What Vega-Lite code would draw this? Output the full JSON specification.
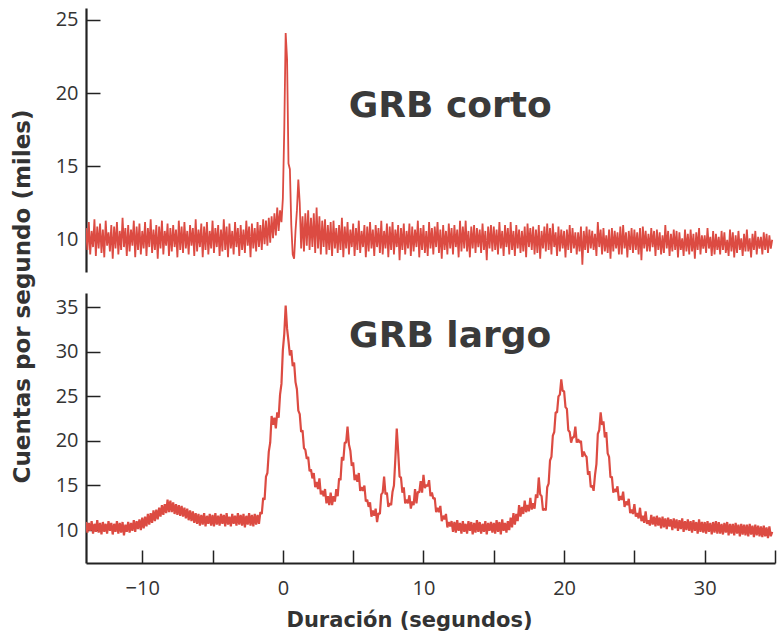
{
"$schema": "https://vega.github.io/schema/vega-lite/v6.json",
"padding": {"left": 11, "top": 8, "right": 2, "bottom": 5},
"bounds": "flush",
"spacing": 21,
"config": {"view": {"stroke": null}, "axis": {"labelFont": "Open Sans", "labelFontSize": 20, "labelColor": "#333", "domainColor": "#222", "domainWidth": 2.2, "tickColor": "#222", "tickWidth": 1.5, "grid": false, "titleFont": "DejaVu Sans", "titleFontWeight": "bold", "titleColor": "#333"}},
"datasets": {
"corto": [
{"t":-14,"v":10.8},{"t":-13.9,"v":9.3},{"t":-13.8,"v":11.2},{"t":-13.7,"v":9.0},{"t":-13.6,"v":10.6},{"t":-13.5,"v":9.5},{"t":-13.4,"v":11.4},{"t":-13.3,"v":8.9},{"t":-13.2,"v":10.9},{"t":-13.1,"v":9.4},
{"t":-13,"v":11.1},{"t":-12.9,"v":9.1},{"t":-12.8,"v":10.7},{"t":-12.7,"v":8.8},{"t":-12.6,"v":11.3},{"t":-12.5,"v":9.6},{"t":-12.4,"v":10.5},{"t":-12.3,"v":9.2},{"t":-12.2,"v":11.0},{"t":-12.1,"v":8.7},
{"t":-12,"v":10.9},{"t":-11.9,"v":9.4},{"t":-11.8,"v":11.2},{"t":-11.7,"v":9.0},{"t":-11.6,"v":10.6},{"t":-11.5,"v":9.3},{"t":-11.4,"v":11.5},{"t":-11.3,"v":9.5},{"t":-11.2,"v":10.8},{"t":-11.1,"v":8.9},
{"t":-11,"v":11.0},{"t":-10.9,"v":9.2},{"t":-10.8,"v":10.7},{"t":-10.7,"v":9.6},{"t":-10.6,"v":11.3},{"t":-10.5,"v":8.8},{"t":-10.4,"v":10.9},{"t":-10.3,"v":9.3},{"t":-10.2,"v":11.1},{"t":-10.1,"v":9.0},
{"t":-10,"v":10.6},{"t":-9.9,"v":9.4},{"t":-9.8,"v":11.2},{"t":-9.7,"v":8.9},{"t":-9.6,"v":10.8},{"t":-9.5,"v":9.5},{"t":-9.4,"v":11.4},{"t":-9.3,"v":9.1},{"t":-9.2,"v":10.7},{"t":-9.1,"v":9.3},
{"t":-9,"v":11.0},{"t":-8.9,"v":8.7},{"t":-8.8,"v":10.9},{"t":-8.7,"v":9.4},{"t":-8.6,"v":11.3},{"t":-8.5,"v":9.0},{"t":-8.4,"v":10.6},{"t":-8.3,"v":9.6},{"t":-8.2,"v":11.1},{"t":-8.1,"v":8.9},
{"t":-8,"v":10.8},{"t":-7.9,"v":9.2},{"t":-7.8,"v":11.0},{"t":-7.7,"v":9.5},{"t":-7.6,"v":10.7},{"t":-7.5,"v":8.8},{"t":-7.4,"v":11.3},{"t":-7.3,"v":9.3},{"t":-7.2,"v":10.9},{"t":-7.1,"v":9.1},
{"t":-7,"v":11.2},{"t":-6.9,"v":9.4},{"t":-6.8,"v":10.6},{"t":-6.7,"v":9.0},{"t":-6.6,"v":11.0},{"t":-6.5,"v":9.6},{"t":-6.4,"v":10.8},{"t":-6.3,"v":8.9},{"t":-6.2,"v":11.4},{"t":-6.1,"v":9.2},
{"t":-6,"v":10.7},{"t":-5.9,"v":9.5},{"t":-5.8,"v":11.1},{"t":-5.7,"v":8.8},{"t":-5.6,"v":10.9},{"t":-5.5,"v":9.3},{"t":-5.4,"v":11.2},{"t":-5.3,"v":9.0},{"t":-5.2,"v":10.6},{"t":-5.1,"v":9.4},
{"t":-5,"v":11.3},{"t":-4.9,"v":9.1},{"t":-4.8,"v":10.8},{"t":-4.7,"v":9.5},{"t":-4.6,"v":11.0},{"t":-4.5,"v":8.9},{"t":-4.4,"v":10.7},{"t":-4.3,"v":9.2},{"t":-4.2,"v":11.4},{"t":-4.1,"v":9.3},
{"t":-4,"v":10.9},{"t":-3.9,"v":8.8},{"t":-3.8,"v":11.1},{"t":-3.7,"v":9.4},{"t":-3.6,"v":10.6},{"t":-3.5,"v":9.0},{"t":-3.4,"v":11.2},{"t":-3.3,"v":9.5},{"t":-3.2,"v":10.8},{"t":-3.1,"v":8.9},
{"t":-3,"v":11.0},{"t":-2.9,"v":9.3},{"t":-2.8,"v":10.7},{"t":-2.7,"v":9.1},{"t":-2.6,"v":11.3},{"t":-2.5,"v":9.6},{"t":-2.4,"v":10.9},{"t":-2.3,"v":8.8},{"t":-2.2,"v":11.1},{"t":-2.1,"v":9.4},
{"t":-2,"v":10.8},{"t":-1.9,"v":9.2},{"t":-1.8,"v":11.2},{"t":-1.7,"v":9.5},{"t":-1.6,"v":11.0},{"t":-1.5,"v":9.3},{"t":-1.4,"v":11.4},{"t":-1.3,"v":9.7},{"t":-1.2,"v":11.3},{"t":-1.1,"v":9.6},
{"t":-1,"v":11.5},{"t":-0.9,"v":9.8},{"t":-0.8,"v":11.6},{"t":-0.7,"v":10.1},{"t":-0.6,"v":11.8},{"t":-0.5,"v":10.3},{"t":-0.4,"v":12.2},{"t":-0.3,"v":10.6},{"t":-0.2,"v":12.0},{"t":-0.1,"v":11.2},
{"t":0,"v":12.8},{"t":0.1,"v":17.5},{"t":0.2,"v":24.1},{"t":0.3,"v":22.3},{"t":0.4,"v":15.2},{"t":0.5,"v":14.8},{"t":0.6,"v":11.0},{"t":0.7,"v":9.0},{"t":0.8,"v":8.7},{"t":0.9,"v":10.6},
{"t":1,"v":12.0},{"t":1.1,"v":14.1},{"t":1.2,"v":12.5},{"t":1.3,"v":9.4},{"t":1.4,"v":11.6},{"t":1.5,"v":9.2},{"t":1.6,"v":11.8},{"t":1.7,"v":9.6},{"t":1.8,"v":12.0},{"t":1.9,"v":9.3},
{"t":2,"v":11.5},{"t":2.1,"v":9.5},{"t":2.2,"v":11.8},{"t":2.3,"v":9.1},{"t":2.4,"v":12.2},{"t":2.5,"v":9.4},{"t":2.6,"v":11.6},{"t":2.7,"v":9.0},{"t":2.8,"v":11.3},{"t":2.9,"v":9.5},
{"t":3,"v":11.4},{"t":3.1,"v":9.0},{"t":3.2,"v":11.0},{"t":3.3,"v":9.3},{"t":3.4,"v":11.2},{"t":3.5,"v":8.9},{"t":3.6,"v":11.3},{"t":3.7,"v":9.4},{"t":3.8,"v":10.8},{"t":3.9,"v":9.1},
{"t":4,"v":11.0},{"t":4.1,"v":9.3},{"t":4.2,"v":11.5},{"t":4.3,"v":8.8},{"t":4.4,"v":10.9},{"t":4.5,"v":9.4},{"t":4.6,"v":11.2},{"t":4.7,"v":9.0},{"t":4.8,"v":10.7},{"t":4.9,"v":9.5},
{"t":5,"v":11.1},{"t":5.1,"v":8.9},{"t":5.2,"v":10.8},{"t":5.3,"v":9.3},{"t":5.4,"v":11.3},{"t":5.5,"v":9.1},{"t":5.6,"v":10.6},{"t":5.7,"v":9.5},{"t":5.8,"v":11.0},{"t":5.9,"v":8.8},
{"t":6,"v":10.9},{"t":6.1,"v":9.2},{"t":6.2,"v":11.2},{"t":6.3,"v":9.4},{"t":6.4,"v":10.7},{"t":6.5,"v":8.9},{"t":6.6,"v":11.0},{"t":6.7,"v":9.5},{"t":6.8,"v":10.8},{"t":6.9,"v":9.1},
{"t":7,"v":11.3},{"t":7.1,"v":9.0},{"t":7.2,"v":10.6},{"t":7.3,"v":9.4},{"t":7.4,"v":11.1},{"t":7.5,"v":8.8},{"t":7.6,"v":10.9},{"t":7.7,"v":9.3},{"t":7.8,"v":11.2},{"t":7.9,"v":9.0},
{"t":8,"v":10.7},{"t":8.1,"v":9.5},{"t":8.2,"v":11.0},{"t":8.3,"v":8.6},{"t":8.4,"v":10.8},{"t":8.5,"v":9.3},{"t":8.6,"v":11.1},{"t":8.7,"v":9.0},{"t":8.8,"v":10.6},{"t":8.9,"v":9.4},
{"t":9,"v":11.1},{"t":9.1,"v":8.9},{"t":9.2,"v":10.9},{"t":9.3,"v":9.2},{"t":9.4,"v":10.7},{"t":9.5,"v":9.5},{"t":9.6,"v":11.3},{"t":9.7,"v":8.8},{"t":9.8,"v":10.8},{"t":9.9,"v":9.3},
{"t":10,"v":11.0},{"t":10.1,"v":9.1},{"t":10.2,"v":10.6},{"t":10.3,"v":8.9},{"t":10.4,"v":11.2},{"t":10.5,"v":9.4},{"t":10.6,"v":10.8},{"t":10.7,"v":9.0},{"t":10.8,"v":10.9},{"t":10.9,"v":9.5},
{"t":11,"v":11.2},{"t":11.1,"v":9.1},{"t":11.2,"v":10.7},{"t":11.3,"v":8.7},{"t":11.4,"v":11.0},{"t":11.5,"v":9.3},{"t":11.6,"v":10.6},{"t":11.7,"v":9.0},{"t":11.8,"v":11.1},{"t":11.9,"v":9.4},
{"t":12,"v":10.8},{"t":12.1,"v":9.0},{"t":12.2,"v":11.0},{"t":12.3,"v":9.5},{"t":12.4,"v":10.7},{"t":12.5,"v":8.8},{"t":12.6,"v":11.3},{"t":12.7,"v":9.2},{"t":12.8,"v":10.9},{"t":12.9,"v":9.4},
{"t":13,"v":11.3},{"t":13.1,"v":9.2},{"t":13.2,"v":10.6},{"t":13.3,"v":8.8},{"t":13.4,"v":10.9},{"t":13.5,"v":9.4},{"t":13.6,"v":11.0},{"t":13.7,"v":9.1},{"t":13.8,"v":10.8},{"t":13.9,"v":9.5},
{"t":14,"v":10.7},{"t":14.1,"v":9.1},{"t":14.2,"v":11.1},{"t":14.3,"v":9.3},{"t":14.4,"v":10.6},{"t":14.5,"v":8.6},{"t":14.6,"v":10.9},{"t":14.7,"v":9.4},{"t":14.8,"v":11.0},{"t":14.9,"v":9.2},
{"t":15,"v":10.9},{"t":15.1,"v":9.3},{"t":15.2,"v":10.7},{"t":15.3,"v":9.0},{"t":15.4,"v":11.2},{"t":15.5,"v":9.4},{"t":15.6,"v":10.6},{"t":15.7,"v":8.9},{"t":15.8,"v":11.0},{"t":15.9,"v":9.5},
{"t":16,"v":10.8},{"t":16.1,"v":9.0},{"t":16.2,"v":11.2},{"t":16.3,"v":9.3},{"t":16.4,"v":10.6},{"t":16.5,"v":8.9},{"t":16.6,"v":11.0},{"t":16.7,"v":9.4},{"t":16.8,"v":10.7},{"t":16.9,"v":9.1},
{"t":17,"v":10.6},{"t":17.1,"v":9.2},{"t":17.2,"v":10.9},{"t":17.3,"v":8.8},{"t":17.4,"v":11.1},{"t":17.5,"v":9.5},{"t":17.6,"v":10.8},{"t":17.7,"v":9.3},{"t":17.8,"v":10.9},{"t":17.9,"v":9.0},
{"t":18,"v":10.7},{"t":18.1,"v":9.1},{"t":18.2,"v":11.0},{"t":18.3,"v":8.7},{"t":18.4,"v":10.6},{"t":18.5,"v":9.4},{"t":18.6,"v":10.9},{"t":18.7,"v":9.2},{"t":18.8,"v":11.1},{"t":18.9,"v":9.3},
{"t":19,"v":10.8},{"t":19.1,"v":9.0},{"t":19.2,"v":11.1},{"t":19.3,"v":9.5},{"t":19.4,"v":10.5},{"t":19.5,"v":8.9},{"t":19.6,"v":10.9},{"t":19.7,"v":9.2},{"t":19.8,"v":10.7},{"t":19.9,"v":9.4},
{"t":20,"v":10.6},{"t":20.1,"v":8.8},{"t":20.2,"v":10.7},{"t":20.3,"v":9.3},{"t":20.4,"v":11.0},{"t":20.5,"v":9.1},{"t":20.6,"v":10.8},{"t":20.7,"v":9.4},{"t":20.8,"v":10.5},{"t":20.9,"v":9.0},
{"t":21,"v":10.5},{"t":21.1,"v":9.2},{"t":21.2,"v":10.9},{"t":21.3,"v":8.3},{"t":21.4,"v":10.6},{"t":21.5,"v":9.3},{"t":21.6,"v":10.9},{"t":21.7,"v":9.1},{"t":21.8,"v":10.7},{"t":21.9,"v":9.4},
{"t":22,"v":10.6},{"t":22.1,"v":9.3},{"t":22.2,"v":10.4},{"t":22.3,"v":8.9},{"t":22.4,"v":11.2},{"t":22.5,"v":9.5},{"t":22.6,"v":10.7},{"t":22.7,"v":9.0},{"t":22.8,"v":10.8},{"t":22.9,"v":9.2},
{"t":23,"v":10.3},{"t":23.1,"v":9.1},{"t":23.2,"v":10.7},{"t":23.3,"v":8.7},{"t":23.4,"v":10.8},{"t":23.5,"v":9.2},{"t":23.6,"v":10.6},{"t":23.7,"v":9.4},{"t":23.8,"v":10.5},{"t":23.9,"v":9.0},
{"t":24,"v":10.9},{"t":24.1,"v":9.0},{"t":24.2,"v":11.0},{"t":24.3,"v":9.4},{"t":24.4,"v":10.5},{"t":24.5,"v":8.8},{"t":24.6,"v":10.6},{"t":24.7,"v":9.3},{"t":24.8,"v":10.8},{"t":24.9,"v":9.1},
{"t":25,"v":10.7},{"t":25.1,"v":9.3},{"t":25.2,"v":10.5},{"t":25.3,"v":9.0},{"t":25.4,"v":10.8},{"t":25.5,"v":8.6},{"t":25.6,"v":10.9},{"t":25.7,"v":9.4},{"t":25.8,"v":10.6},{"t":25.9,"v":9.2},
{"t":26,"v":10.4},{"t":26.1,"v":9.2},{"t":26.2,"v":10.8},{"t":26.3,"v":9.5},{"t":26.4,"v":10.6},{"t":26.5,"v":8.9},{"t":26.6,"v":10.7},{"t":26.7,"v":9.3},{"t":26.8,"v":10.5},{"t":26.9,"v":9.0},
{"t":27,"v":10.3},{"t":27.1,"v":9.1},{"t":27.2,"v":11.0},{"t":27.3,"v":9.4},{"t":27.4,"v":10.6},{"t":27.5,"v":8.9},{"t":27.6,"v":10.4},{"t":27.7,"v":9.2},{"t":27.8,"v":10.7},{"t":27.9,"v":9.3},
{"t":28,"v":10.6},{"t":28.1,"v":8.8},{"t":28.2,"v":10.5},{"t":28.3,"v":9.3},{"t":28.4,"v":10.1},{"t":28.5,"v":8.9},{"t":28.6,"v":10.7},{"t":28.7,"v":9.2},{"t":28.8,"v":10.4},{"t":28.9,"v":9.0},
{"t":29,"v":10.7},{"t":29.1,"v":9.2},{"t":29.2,"v":10.4},{"t":29.3,"v":8.7},{"t":29.4,"v":10.5},{"t":29.5,"v":9.3},{"t":29.6,"v":10.8},{"t":29.7,"v":9.0},{"t":29.8,"v":10.3},{"t":29.9,"v":9.4},
{"t":30,"v":10.3},{"t":30.1,"v":9.1},{"t":30.2,"v":10.8},{"t":30.3,"v":9.4},{"t":30.4,"v":10.2},{"t":30.5,"v":8.9},{"t":30.6,"v":10.6},{"t":30.7,"v":9.0},{"t":30.8,"v":10.4},{"t":30.9,"v":9.3},
{"t":31,"v":10.2},{"t":31.1,"v":9.0},{"t":31.2,"v":10.6},{"t":31.3,"v":9.3},{"t":31.4,"v":10.5},{"t":31.5,"v":9.1},{"t":31.6,"v":10.0},{"t":31.7,"v":8.9},{"t":31.8,"v":10.7},{"t":31.9,"v":9.2},
{"t":32,"v":10.5},{"t":32.1,"v":8.8},{"t":32.2,"v":10.3},{"t":32.3,"v":9.1},{"t":32.4,"v":10.6},{"t":32.5,"v":9.3},{"t":32.6,"v":10.1},{"t":32.7,"v":8.9},{"t":32.8,"v":10.4},{"t":32.9,"v":9.2},
{"t":33,"v":10.7},{"t":33.1,"v":9.2},{"t":33.2,"v":10.1},{"t":33.3,"v":8.8},{"t":33.4,"v":10.4},{"t":33.5,"v":9.3},{"t":33.6,"v":10.6},{"t":33.7,"v":9.0},{"t":33.8,"v":10.2},{"t":33.9,"v":9.4},
{"t":34,"v":10.2},{"t":34.1,"v":9.0},{"t":34.2,"v":10.5},{"t":34.3,"v":9.3},{"t":34.4,"v":10.4},{"t":34.5,"v":9.1},{"t":34.6,"v":10.3},{"t":34.7,"v":9.4},{"t":34.8,"v":10.0}
],
"largo": [
{"t":-14,"v":10.9},{"t":-13.9,"v":9.7},{"t":-13.8,"v":10.8},{"t":-13.7,"v":9.9},{"t":-13.6,"v":11.0},{"t":-13.5,"v":9.6},{"t":-13.4,"v":10.7},{"t":-13.3,"v":9.8},{"t":-13.2,"v":11.1},{"t":-13.1,"v":9.7},
{"t":-13,"v":10.8},{"t":-12.9,"v":9.5},{"t":-12.8,"v":10.9},{"t":-12.7,"v":9.8},{"t":-12.6,"v":10.7},{"t":-12.5,"v":9.6},{"t":-12.4,"v":11.0},{"t":-12.3,"v":9.9},{"t":-12.2,"v":10.8},{"t":-12.1,"v":9.5},
{"t":-12,"v":10.7},{"t":-11.9,"v":9.8},{"t":-11.8,"v":11.0},{"t":-11.7,"v":9.6},{"t":-11.6,"v":10.8},{"t":-11.5,"v":9.7},{"t":-11.4,"v":10.9},{"t":-11.3,"v":9.4},{"t":-11.2,"v":10.6},{"t":-11.1,"v":9.8},
{"t":-11,"v":10.9},{"t":-10.9,"v":9.7},{"t":-10.8,"v":10.8},{"t":-10.7,"v":9.9},{"t":-10.6,"v":11.1},{"t":-10.5,"v":9.8},{"t":-10.4,"v":11.0},{"t":-10.3,"v":10.1},{"t":-10.2,"v":11.2},{"t":-10.1,"v":10.0},
{"t":-10,"v":11.4},{"t":-9.9,"v":10.2},{"t":-9.8,"v":11.5},{"t":-9.7,"v":10.4},{"t":-9.6,"v":11.8},{"t":-9.5,"v":10.6},{"t":-9.4,"v":11.9},{"t":-9.3,"v":10.8},{"t":-9.2,"v":12.2},{"t":-9.1,"v":11.0},
{"t":-9,"v":12.3},{"t":-8.9,"v":11.2},{"t":-8.8,"v":12.5},{"t":-8.7,"v":11.5},{"t":-8.6,"v":12.8},{"t":-8.5,"v":11.7},{"t":-8.4,"v":12.9},{"t":-8.3,"v":11.9},{"t":-8.2,"v":13.4},{"t":-8.1,"v":12.0},
{"t":-8,"v":13.3},{"t":-7.9,"v":12.0},{"t":-7.8,"v":13.1},{"t":-7.7,"v":11.8},{"t":-7.6,"v":12.9},{"t":-7.5,"v":11.7},{"t":-7.4,"v":12.8},{"t":-7.3,"v":11.6},{"t":-7.2,"v":12.7},{"t":-7.1,"v":11.5},
{"t":-7,"v":12.5},{"t":-6.9,"v":11.3},{"t":-6.8,"v":12.4},{"t":-6.7,"v":11.1},{"t":-6.6,"v":12.2},{"t":-6.5,"v":11.0},{"t":-6.4,"v":12.1},{"t":-6.3,"v":10.8},{"t":-6.2,"v":11.9},{"t":-6.1,"v":10.7},
{"t":-6,"v":11.8},{"t":-5.9,"v":10.5},{"t":-5.8,"v":11.7},{"t":-5.7,"v":10.6},{"t":-5.6,"v":11.9},{"t":-5.5,"v":10.4},{"t":-5.4,"v":11.6},{"t":-5.3,"v":10.7},{"t":-5.2,"v":11.8},{"t":-5.1,"v":10.5},
{"t":-5,"v":11.7},{"t":-4.9,"v":10.4},{"t":-4.8,"v":11.9},{"t":-4.7,"v":10.6},{"t":-4.6,"v":11.6},{"t":-4.5,"v":10.5},{"t":-4.4,"v":11.8},{"t":-4.3,"v":10.7},{"t":-4.2,"v":11.7},{"t":-4.1,"v":10.4},
{"t":-4,"v":11.9},{"t":-3.9,"v":10.6},{"t":-3.8,"v":11.5},{"t":-3.7,"v":10.4},{"t":-3.6,"v":11.8},{"t":-3.5,"v":10.7},{"t":-3.4,"v":11.6},{"t":-3.3,"v":10.5},{"t":-3.2,"v":11.9},{"t":-3.1,"v":10.6},
{"t":-3,"v":11.7},{"t":-2.9,"v":10.5},{"t":-2.8,"v":11.8},{"t":-2.7,"v":10.3},{"t":-2.6,"v":11.6},{"t":-2.5,"v":10.6},{"t":-2.4,"v":11.9},{"t":-2.3,"v":10.5},{"t":-2.2,"v":11.7},{"t":-2.1,"v":10.4},
{"t":-2,"v":11.8},{"t":-1.9,"v":10.6},{"t":-1.8,"v":11.7},{"t":-1.7,"v":10.7},{"t":-1.6,"v":12.0},{"t":-1.5,"v":11.8},{"t":-1.4,"v":13.6},{"t":-1.3,"v":13.4},{"t":-1.2,"v":16.0},{"t":-1.1,"v":16.4},
{"t":-1,"v":18.8},{"t":-0.9,"v":19.8},{"t":-0.8,"v":22.8},{"t":-0.7,"v":21.8},{"t":-0.6,"v":22.6},{"t":-0.5,"v":21.4},{"t":-0.4,"v":23.2},{"t":-0.3,"v":22.6},{"t":-0.2,"v":25.2},{"t":-0.1,"v":26.4},
{"t":0,"v":30.2},{"t":0.1,"v":32.0},{"t":0.2,"v":35.2},{"t":0.3,"v":32.6},{"t":0.4,"v":31.2},{"t":0.5,"v":29.6},{"t":0.6,"v":30.2},{"t":0.7,"v":28.4},{"t":0.8,"v":28.8},{"t":0.9,"v":26.6},
{"t":1,"v":25.8},{"t":1.1,"v":23.4},{"t":1.2,"v":23.0},{"t":1.3,"v":21.0},{"t":1.4,"v":21.2},{"t":1.5,"v":19.2},{"t":1.6,"v":19.0},{"t":1.7,"v":18.0},{"t":1.8,"v":18.2},{"t":1.9,"v":16.6},
{"t":2,"v":16.8},{"t":2.1,"v":15.8},{"t":2.2,"v":16.4},{"t":2.3,"v":14.8},{"t":2.4,"v":15.4},{"t":2.5,"v":14.6},{"t":2.6,"v":15.8},{"t":2.7,"v":14.0},{"t":2.8,"v":14.4},{"t":2.9,"v":13.8},
{"t":3,"v":14.6},{"t":3.1,"v":13.0},{"t":3.2,"v":13.8},{"t":3.3,"v":12.8},{"t":3.4,"v":14.2},{"t":3.5,"v":12.8},{"t":3.6,"v":13.8},{"t":3.7,"v":13.2},{"t":3.8,"v":14.6},{"t":3.9,"v":13.8},
{"t":4,"v":15.8},{"t":4.1,"v":15.6},{"t":4.2,"v":18.2},{"t":4.3,"v":17.8},{"t":4.4,"v":19.8},{"t":4.5,"v":19.8},{"t":4.6,"v":21.6},{"t":4.7,"v":19.6},{"t":4.8,"v":18.9},{"t":4.9,"v":17.2},
{"t":5,"v":17.6},{"t":5.1,"v":15.6},{"t":5.2,"v":16.2},{"t":5.3,"v":15.4},{"t":5.4,"v":16.4},{"t":5.5,"v":14.4},{"t":5.6,"v":14.8},{"t":5.7,"v":14.4},{"t":5.8,"v":15.0},{"t":5.9,"v":13.2},
{"t":6,"v":13.4},{"t":6.1,"v":12.6},{"t":6.2,"v":13.1},{"t":6.3,"v":11.5},{"t":6.4,"v":12.2},{"t":6.5,"v":11.6},{"t":6.6,"v":12.4},{"t":6.7,"v":10.9},{"t":6.8,"v":11.9},{"t":6.9,"v":11.8},
{"t":7,"v":14.0},{"t":7.1,"v":14.2},{"t":7.2,"v":16.0},{"t":7.3,"v":14.0},{"t":7.4,"v":14.2},{"t":7.5,"v":12.6},{"t":7.6,"v":13.0},{"t":7.7,"v":12.8},{"t":7.8,"v":14.3},{"t":7.9,"v":15.0},
{"t":8,"v":18.0},{"t":8.1,"v":21.4},{"t":8.2,"v":18.8},{"t":8.3,"v":16.0},{"t":8.4,"v":15.9},{"t":8.5,"v":14.2},{"t":8.6,"v":14.8},{"t":8.7,"v":13.0},{"t":8.8,"v":13.4},{"t":8.9,"v":13.0},
{"t":9,"v":13.9},{"t":9.1,"v":12.4},{"t":9.2,"v":13.2},{"t":9.3,"v":12.8},{"t":9.4,"v":14.6},{"t":9.5,"v":13.0},{"t":9.6,"v":14.3},{"t":9.7,"v":14.2},{"t":9.8,"v":15.5},{"t":9.9,"v":14.2},
{"t":10,"v":16.2},{"t":10.1,"v":14.7},{"t":10.2,"v":15.1},{"t":10.3,"v":14.9},{"t":10.4,"v":15.6},{"t":10.5,"v":13.8},{"t":10.6,"v":14.2},{"t":10.7,"v":13.5},{"t":10.8,"v":13.6},{"t":10.9,"v":12.0},
{"t":11,"v":12.5},{"t":11.1,"v":12.0},{"t":11.2,"v":12.7},{"t":11.3,"v":11.0},{"t":11.4,"v":11.6},{"t":11.5,"v":11.2},{"t":11.6,"v":11.8},{"t":11.7,"v":10.3},{"t":11.8,"v":10.9},{"t":11.9,"v":10.4},
{"t":12,"v":11.0},{"t":12.1,"v":9.8},{"t":12.2,"v":10.9},{"t":12.3,"v":9.7},{"t":12.4,"v":11.1},{"t":12.5,"v":9.9},{"t":12.6,"v":10.8},{"t":12.7,"v":9.6},{"t":12.8,"v":11.0},{"t":12.9,"v":9.8},
{"t":13,"v":10.7},{"t":13.1,"v":9.6},{"t":13.2,"v":11.0},{"t":13.3,"v":9.9},{"t":13.4,"v":10.9},{"t":13.5,"v":9.5},{"t":13.6,"v":10.8},{"t":13.7,"v":9.7},{"t":13.8,"v":11.1},{"t":13.9,"v":9.8},
{"t":14,"v":10.9},{"t":14.1,"v":9.6},{"t":14.2,"v":10.7},{"t":14.3,"v":9.8},{"t":14.4,"v":11.0},{"t":14.5,"v":9.5},{"t":14.6,"v":10.8},{"t":14.7,"v":9.9},{"t":14.8,"v":10.9},{"t":14.9,"v":9.7},
{"t":15,"v":10.8},{"t":15.1,"v":9.6},{"t":15.2,"v":11.1},{"t":15.3,"v":9.8},{"t":15.4,"v":10.9},{"t":15.5,"v":9.5},{"t":15.6,"v":11.2},{"t":15.7,"v":9.9},{"t":15.8,"v":10.8},{"t":15.9,"v":9.7},
{"t":16,"v":11.0},{"t":16.1,"v":10.0},{"t":16.2,"v":11.4},{"t":16.3,"v":10.3},{"t":16.4,"v":11.9},{"t":16.5,"v":10.6},{"t":16.6,"v":11.8},{"t":16.7,"v":11.0},{"t":16.8,"v":12.8},{"t":16.9,"v":11.5},
{"t":17,"v":12.6},{"t":17.1,"v":11.8},{"t":17.2,"v":13.3},{"t":17.3,"v":12.0},{"t":17.4,"v":12.8},{"t":17.5,"v":12.1},{"t":17.6,"v":13.6},{"t":17.7,"v":12.3},{"t":17.8,"v":13.0},{"t":17.9,"v":12.4},
{"t":18,"v":14.0},{"t":18.1,"v":13.6},{"t":18.2,"v":15.9},{"t":18.3,"v":14.0},{"t":18.4,"v":13.8},{"t":18.5,"v":12.2},{"t":18.6,"v":12.4},{"t":18.7,"v":12.2},{"t":18.8,"v":14.8},{"t":18.9,"v":15.2},
{"t":19,"v":17.8},{"t":19.1,"v":18.2},{"t":19.2,"v":20.6},{"t":19.3,"v":21.0},{"t":19.4,"v":23.2},{"t":19.5,"v":23.2},{"t":19.6,"v":25.0},{"t":19.7,"v":25.2},{"t":19.8,"v":26.9},{"t":19.9,"v":25.6},
{"t":20,"v":25.6},{"t":20.1,"v":23.8},{"t":20.2,"v":23.6},{"t":20.3,"v":21.2},{"t":20.4,"v":21.0},{"t":20.5,"v":19.8},{"t":20.6,"v":20.4},{"t":20.7,"v":20.4},{"t":20.8,"v":21.6},{"t":20.9,"v":19.8},
{"t":21,"v":20.2},{"t":21.1,"v":19.8},{"t":21.2,"v":20.0},{"t":21.3,"v":18.2},{"t":21.4,"v":18.8},{"t":21.5,"v":18.4},{"t":21.6,"v":18.2},{"t":21.7,"v":16.2},{"t":21.8,"v":16.6},{"t":21.9,"v":14.8},
{"t":22,"v":15.0},{"t":22.1,"v":14.4},{"t":22.2,"v":16.2},{"t":22.3,"v":17.4},{"t":22.4,"v":20.8},{"t":22.5,"v":21.2},{"t":22.6,"v":23.2},{"t":22.7,"v":21.8},{"t":22.8,"v":22.2},{"t":22.9,"v":20.4},
{"t":23,"v":21.0},{"t":23.1,"v":18.6},{"t":23.2,"v":18.2},{"t":23.3,"v":15.9},{"t":23.4,"v":16.0},{"t":23.5,"v":14.2},{"t":23.6,"v":14.6},{"t":23.7,"v":14.3},{"t":23.8,"v":14.9},{"t":23.9,"v":13.3},
{"t":24,"v":13.8},{"t":24.1,"v":13.4},{"t":24.2,"v":14.3},{"t":24.3,"v":12.6},{"t":24.4,"v":13.2},{"t":24.5,"v":12.8},{"t":24.6,"v":13.5},{"t":24.7,"v":11.9},{"t":24.8,"v":12.3},{"t":24.9,"v":11.8},
{"t":25,"v":12.9},{"t":25.1,"v":11.5},{"t":25.2,"v":11.9},{"t":25.3,"v":11.3},{"t":25.4,"v":12.5},{"t":25.5,"v":11.0},{"t":25.6,"v":11.6},{"t":25.7,"v":10.8},{"t":25.8,"v":12.1},{"t":25.9,"v":10.7},
{"t":26,"v":11.1},{"t":26.1,"v":10.5},{"t":26.2,"v":11.7},{"t":26.3,"v":10.6},{"t":26.4,"v":11.5},{"t":26.5,"v":10.4},{"t":26.6,"v":11.6},{"t":26.7,"v":10.5},{"t":26.8,"v":11.4},{"t":26.9,"v":10.2},
{"t":27,"v":11.5},{"t":27.1,"v":10.3},{"t":27.2,"v":11.3},{"t":27.3,"v":10.1},{"t":27.4,"v":11.4},{"t":27.5,"v":10.4},{"t":27.6,"v":11.2},{"t":27.7,"v":10.0},{"t":27.8,"v":11.3},{"t":27.9,"v":10.2},
{"t":28,"v":11.2},{"t":28.1,"v":9.9},{"t":28.2,"v":11.1},{"t":28.3,"v":10.1},{"t":28.4,"v":11.3},{"t":28.5,"v":9.8},{"t":28.6,"v":11.0},{"t":28.7,"v":10.0},{"t":28.8,"v":11.2},{"t":28.9,"v":9.9},
{"t":29,"v":11.0},{"t":29.1,"v":9.7},{"t":29.2,"v":11.1},{"t":29.3,"v":9.9},{"t":29.4,"v":10.9},{"t":29.5,"v":9.6},{"t":29.6,"v":11.2},{"t":29.7,"v":9.8},{"t":29.8,"v":10.9},{"t":29.9,"v":9.7},
{"t":30,"v":10.9},{"t":30.1,"v":9.6},{"t":30.2,"v":11.0},{"t":30.3,"v":9.8},{"t":30.4,"v":10.8},{"t":30.5,"v":9.5},{"t":30.6,"v":10.9},{"t":30.7,"v":9.7},{"t":30.8,"v":11.0},{"t":30.9,"v":9.6},
{"t":31,"v":10.9},{"t":31.1,"v":9.6},{"t":31.2,"v":10.7},{"t":31.3,"v":9.5},{"t":31.4,"v":10.8},{"t":31.5,"v":9.7},{"t":31.6,"v":10.9},{"t":31.7,"v":9.4},{"t":31.8,"v":10.7},{"t":31.9,"v":9.6},
{"t":32,"v":10.7},{"t":32.1,"v":9.4},{"t":32.2,"v":10.8},{"t":32.3,"v":9.6},{"t":32.4,"v":10.6},{"t":32.5,"v":9.3},{"t":32.6,"v":10.7},{"t":32.7,"v":9.5},{"t":32.8,"v":10.6},{"t":32.9,"v":9.4},
{"t":33,"v":10.6},{"t":33.1,"v":9.3},{"t":33.2,"v":10.7},{"t":33.3,"v":9.5},{"t":33.4,"v":10.5},{"t":33.5,"v":9.2},{"t":33.6,"v":10.6},{"t":33.7,"v":9.4},{"t":33.8,"v":10.5},{"t":33.9,"v":9.3},
{"t":34,"v":10.4},{"t":34.1,"v":9.2},{"t":34.2,"v":10.5},{"t":34.3,"v":9.3},{"t":34.4,"v":10.3},{"t":34.5,"v":9.1},{"t":34.6,"v":10.4},{"t":34.7,"v":9.3},{"t":34.8,"v":9.8}
]
},
"vconcat": [
{
"width": 689, "height": 264,
"layer": [
{"data": {"name": "corto"}, "mark": {"type": "line", "color": "#dc4b42", "strokeWidth": 1.8, "strokeJoin": "bevel", "clip": true},
 "encoding": {
  "x": {"field": "t", "type": "quantitative", "scale": {"domain": [-14, 35], "nice": false, "zero": false}, "axis": null},
  "y": {"field": "v", "type": "quantitative", "scale": {"domain": [7.8, 25.8], "nice": false, "zero": false},
        "axis": {"values": [10, 15, 20, 25], "tickSize": -14, "labelPadding": 22, "title": "Cuentas por segundo (miles)", "titleFontSize": 23, "titleAngle": -90, "titleX": -57, "titleY": 288, "titleAlign": "center", "titleBaseline": "alphabetic"}}}},
{"data": {"values": [{"t": 11.9, "v": 18.39, "label": "GRB corto"}]},
 "mark": {"type": "text", "font": "DejaVu Sans", "fontWeight": "bold", "fontSize": 36, "color": "#3a3a3a", "align": "center", "baseline": "alphabetic"},
 "encoding": {"x": {"field": "t", "type": "quantitative"}, "y": {"field": "v", "type": "quantitative"}, "text": {"field": "label"}}}
]
},
{
"width": 689, "height": 270,
"layer": [
{"data": {"name": "largo"}, "mark": {"type": "line", "color": "#dc4b42", "strokeWidth": 2.2, "strokeJoin": "bevel", "clip": true},
 "encoding": {
  "x": {"field": "t", "type": "quantitative", "scale": {"domain": [-14, 35], "nice": false, "zero": false},
        "axis": {"values": [-10, -5, 0, 5, 10, 15, 20, 25, 30, 35], "tickSize": -13, "labelExpr": "datum.value % 10 === 0 ? datum.label : ''", "labelPadding": 28, "labelFlush": false, "labelOverlap": false, "title": "Duración (segundos)", "titleFontSize": 21, "titleX": 323, "titleY": 63, "titleAlign": "center", "titleBaseline": "alphabetic",
                 "encode": {"ticks": {"update": {"y2": {"signal": "datum.value % 10 === 0 ? -13 : -8"}}}}}},
  "y": {"field": "v", "type": "quantitative", "scale": {"domain": [6.3, 36.6], "nice": false, "zero": false},
        "axis": {"values": [10, 15, 20, 25, 30, 35], "tickSize": -14, "labelPadding": 22, "title": null}}}},
{"data": {"values": [{"t": 11.9, "v": 30.5, "label": "GRB largo"}]},
 "mark": {"type": "text", "font": "DejaVu Sans", "fontWeight": "bold", "fontSize": 36, "color": "#3a3a3a", "align": "center", "baseline": "alphabetic"},
 "encoding": {"x": {"field": "t", "type": "quantitative"}, "y": {"field": "v", "type": "quantitative"}, "text": {"field": "label"}}}
]
}
]
}
